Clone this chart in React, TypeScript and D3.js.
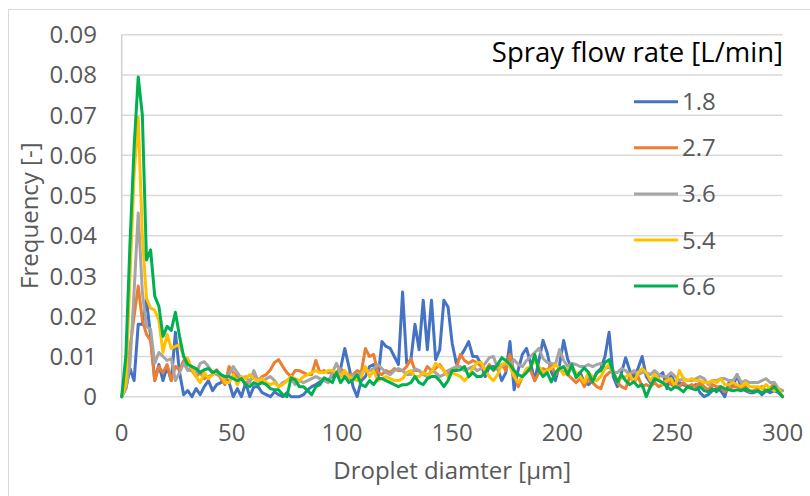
import React from 'react';
import * as d3 from 'd3';

// Droplet diameter bins (µm), uniform spacing from 0 to 300
const binCount = 161;
const diameters: number[] = d3.range(binCount).map((i) => (i * 300) / (binCount - 1));

// Frequency values in thousandths (×0.001) for each spray flow rate
const flow18 = [
  0, 2, 7, 4, 18, 18, 24, 15, 4, 8,
  4, 7.5, 4, 16, 6, 0.5, 1.5, 0, 2, 0.5,
  2.5, 4, 1.5, 3, 3.5, 5, 3.5, 0, 2, 0,
  3.5, 0, 2.5, 2.5, 1, 0.5, 0, 1.2, 0.5, 0,
  1, 0, 0, 0, 0.5, 1.7, 2.5, 3, 3.7, 4.2,
  4.2, 5, 6, 7, 12, 7.5, 2.5, 0, 4, 5,
  7.5, 8, 4, 13.7, 12.5, 12, 10, 8, 26, 8.3,
  9, 18, 11.7, 24, 11.7, 24, 9.2, 11.7, 24, 22.3,
  13.3, 8.3, 10, 11.7, 13.7, 10, 10, 8, 5, 7.5,
  7.5, 7, 4, 6, 13.7, 1.7, 6.7, 10.5, 12, 8.3,
  4, 9, 14, 11, 6.2, 4, 8, 14, 9.2, 7,
  5.5, 6, 3.5, 3, 4, 6, 7, 10, 16, 5,
  2.5, 6, 9.7, 6.5, 5, 7, 10, 5, 3.5, 4,
  5, 6, 2, 5.5, 3, 3.5, 3, 2.5, 2.5, 3,
  1, 0, 0.5, 1.5, 2, 1.5, 0, 3.5, 2.5, 5.5,
  2, 1.5, 1, 1, 1.5, 0.5, 1.5, 1, 1.5, 1,
  0,
];
const flow27 = [
  0, 5, 12, 20, 27.5, 19, 15.5, 14, 4, 7.5,
  6, 8, 4, 7.5, 6.7, 9, 6.7, 6.5, 5, 6,
  4.5, 5, 5.5, 6.7, 4.5, 3, 7.5, 6, 5, 4.5,
  3, 4, 5, 4, 5, 5.5, 6.7, 8.5, 9.2, 7.5,
  6, 5, 6.5, 6.5, 6, 5.5, 5.5, 9, 6, 6.5,
  6, 6, 6, 7, 6, 5.5, 5.5, 6.5, 6, 12,
  10, 10.5, 6, 5.5, 6.5, 6, 7, 6.5, 6.5, 7.5,
  9.5, 6.5, 6.5, 5.5, 7.5, 6.5, 7, 8, 6.5, 6,
  6.5, 7, 10.5, 9, 8.3, 9, 8.5, 7.5, 6.5, 8,
  6.5, 7.5, 8, 6.5, 10.5, 6, 2.5, 5, 6.5, 6.5,
  4, 6, 7, 6.5, 8, 5.5, 7, 6, 5.5, 4.5,
  3.5, 4.5, 2.5, 4.5, 3.5, 2.5, 2, 5, 6, 6.5,
  3.5, 2.5, 2, 5, 3.5, 5, 2.5, 3, 2.5, 3.5,
  2.5, 3, 4.5, 3, 2.5, 2.5, 3.5, 2.5, 3, 2.5,
  3.5, 2.5, 1.7, 3, 2.5, 2.5, 1.2, 2, 2.5, 2.5,
  1.7, 2.5, 1.2, 1.5, 2, 2.5, 1.5, 2, 3.5, 1.2,
  1.5,
];
const flow36 = [
  0, 2, 8, 26, 45.7, 26, 17.5, 16.7, 8.3, 11,
  10, 9, 9.5, 4, 6, 8.3, 6.5, 7.5, 5.5, 8.3,
  8.7, 7.5, 6, 5.5, 5, 4.7, 5.5, 7.5, 6, 4.5,
  5, 3.5, 6.5, 4, 3.5, 4.5, 5, 4, 2.5, 3.5,
  4, 4.5, 3, 4, 3.5, 4, 4.5, 5, 4.5, 4,
  3.5, 6, 8.3, 6, 5, 4.5, 5.5, 5, 6, 6.5,
  6.5, 7, 8, 7, 6, 5.5, 6.5, 7, 6.5, 5.5,
  5.5, 7, 6.5, 5.5, 5, 6.5, 6, 5, 5.5, 6.5,
  7, 7.5, 7.5, 6.5, 7, 7.5, 6.5, 7, 8.3, 9.7,
  10, 7, 7.5, 8.3, 7.5, 9.2, 8, 7.5, 9, 10,
  11, 12, 9.5, 8.5, 8.3, 8, 11.7, 9, 7.5, 8.3,
  8, 7.5, 7.5, 8, 7.5, 8, 8.3, 7, 7.5, 6,
  6, 7, 6.5, 5.5, 6.5, 5.5, 6, 6, 5.5, 6.5,
  5.5, 5, 5, 6, 5, 4, 4.5, 4, 4, 4.5,
  5, 4.5, 3, 4, 4, 4.5, 4.5, 4, 4, 5.5,
  3.5, 4, 3.5, 3.5, 3.5, 4, 4.5, 3.5, 3.5, 2,
  1.5,
];
const flow54 = [
  0, 3, 30, 55, 69.5, 40, 24.5, 22, 21.5, 19,
  11, 15.5, 12, 12.5, 13, 10, 9.5, 7, 5, 3.5,
  6, 4.5, 5.5, 6.5, 5.5, 3.5, 3.5, 5.5, 3, 5,
  4.5, 5.5, 4.5, 4, 4.5, 3.5, 3, 3.5, 2.5, 3,
  4, 5, 4.5, 4, 5, 5.5, 6, 6.5, 6, 6,
  6.5, 6.5, 6, 5, 6.5, 5, 4.5, 4, 5, 7.5,
  5, 6.5, 4, 4.5, 5, 4.5, 4, 4, 4.5, 6,
  6.5, 5, 5, 6, 5.5, 6, 8.3, 7.5, 6.5, 5,
  6, 5.5, 5, 4, 5, 7, 8.5, 8.5, 6.5, 5,
  4, 5.5, 8, 8.5, 7.5, 5, 3.5, 5, 7, 7.5,
  9, 7.5, 6, 6.5, 7, 8, 7, 5.5, 7, 7,
  6, 5, 3.5, 6, 5, 4, 5, 7, 8, 6,
  4, 4.5, 5, 5.5, 3.5, 6, 7, 6, 4, 5.5,
  4.5, 3, 4, 4.5, 2.5, 6.5, 4.5, 4, 4.5, 4,
  4, 3.5, 3.5, 4, 3.5, 4.5, 3, 3, 3.5, 3,
  2.5, 3.5, 2.5, 2.5, 2.5, 2, 3, 2, 1.5, 2,
  0,
];
const flow66 = [
  0, 10, 38, 62, 79.5, 70, 34, 36.5, 25, 22.5,
  15, 17.5, 16.5, 21, 15, 10, 8, 7.5, 7, 6,
  6.7, 7, 6, 6.5, 5.5, 5, 5, 4.5, 4, 4.5,
  3, 2.5, 3.5, 3, 3.5, 3, 2, 1.7, 1.7, 0.5,
  0, 4.7, 4.2, 2.5, 2.5, 1.5, 0.5, 2.5, 3, 4.7,
  4.2, 3.5, 6, 3.5, 5, 3.5, 4.2, 5.5, 3, 2.5,
  4, 3, 4.5, 4.5, 4, 3.5, 3, 2.5, 3, 3,
  3.5, 5, 3.5, 3, 4.5, 5, 5, 4, 2.5, 4,
  6.5, 6.5, 6.7, 7.5, 5, 6, 5, 5, 6, 7.5,
  6.7, 8, 9.7, 9, 8, 6.5, 5.5, 5, 6, 7.2,
  10.5, 6.5, 5, 6, 3.7, 6, 7, 7.5, 5.5, 8,
  4.7, 6, 7.2, 6, 3.7, 6, 6.5, 8.5, 9.2, 6,
  3.7, 5.5, 4, 3, 3.7, 2.5, 3, 0, 2.5, 4.5,
  4, 3.5, 2.5, 1.7, 2.5, 2, 1.2, 2.5, 2, 1.7,
  2.5, 1.5, 1.2, 2, 1.2, 2.5, 2, 1.7, 1.5, 1.7,
  1.5, 2, 1.5, 1.2, 1.5, 1, 1.5, 1.7, 2.5, 1.2,
  0,
];

const seriesNames = ['1.8', '2.7', '3.6', '5.4', '6.6'];
const seriesValues = [flow18, flow27, flow36, flow54, flow66];
const seriesColors = ['#4472C4', '#ED7D31', '#A5A5A5', '#FFC000', '#00B050'];

const yTicks = [0, 0.01, 0.02, 0.03, 0.04, 0.05, 0.06, 0.07, 0.08, 0.09];
const yTickLabels = ['0', '0.01', '0.02', '0.03', '0.04', '0.05', '0.06', '0.07', '0.08', '0.09'];
const xTicks = [0, 50, 100, 150, 200, 250, 300];

const legendTitle = 'Spray flow rate [L/min]';
const xTitle = 'Droplet diamter [µm]';
const yTitle = 'Frequency [-]';

const FONT = "'Open Sans', 'Noto Sans', sans-serif";
const PER_MILLE = 1000;

export default function App() {
  const W = 810;
  const H = 496;
  const left = 121.7;
  const right = 782.6;
  const top = 34.7;
  const bottom = 396.7;

  const x = d3.scaleLinear().domain([0, 300]).range([left, right]);
  const y = d3.scaleLinear().domain([0, 0.09]).range([bottom, top]);

  const line = d3
    .line<number>()
    .x((_, i) => x(diameters[i]))
    .y((d) => y(d / PER_MILLE));

  const legendX1 = 634;
  const legendX2 = 678;
  const legendY0 = 101.7;
  const legendStep = 46.1;

  return (
    <svg
      width={W}
      height={H}
      viewBox={`0 0 ${W} ${H}`}
      style={{ position: 'absolute', left: 0, top: 0, display: 'block', background: '#fff' }}
    >
      <rect x={0} y={0} width={W} height={H} fill="#fff" />
      <rect x={8.5} y={9.5} width={900} height={600} fill="none" stroke="#d9d9d9" strokeWidth={1} />

      {yTicks.map((t) => (
        <line
          key={`g${t}`}
          x1={left}
          x2={right}
          y1={y(t)}
          y2={y(t)}
          stroke="#d9d9d9"
          strokeWidth={1.5}
        />
      ))}
      <line x1={left} x2={left} y1={top} y2={bottom} stroke="#d0d0d0" strokeWidth={1.5} />

      {yTicks.map((t, i) => (
        <text
          key={`yl${t}`}
          x={97}
          y={y(t) + 8.5}
          textAnchor="end"
          fontFamily={FONT}
          fontSize={24}
          fill="#595959"
        >
          {yTickLabels[i]}
        </text>
      ))}
      {xTicks.map((t) => (
        <text
          key={`xl${t}`}
          x={x(t)}
          y={441}
          textAnchor="middle"
          fontFamily={FONT}
          fontSize={24}
          fill="#595959"
        >
          {t}
        </text>
      ))}

      {seriesValues.map((vals, k) => (
        <path
          key={`s${k}`}
          d={line(vals) || ''}
          fill="none"
          stroke={seriesColors[k]}
          strokeWidth={3}
          strokeLinejoin="round"
          strokeLinecap="round"
        />
      ))}

      <text
        x={783}
        y={62}
        textAnchor="end"
        fontFamily={FONT}
        fontSize={27.5}
        fill="#000"
      >
        {legendTitle}
      </text>
      {seriesNames.map((name, k) => {
        const ly = legendY0 + k * legendStep;
        return (
          <g key={`lg${k}`}>
            <line x1={legendX1} x2={legendX2} y1={ly} y2={ly} stroke={seriesColors[k]} strokeWidth={3} />
            <text x={682} y={ly + 8.5} fontFamily={FONT} fontSize={24} fill="#595959">
              {name}
            </text>
          </g>
        );
      })}

      <text
        x={(left + right) / 2}
        y={479}
        textAnchor="middle"
        fontFamily={FONT}
        fontSize={24}
        fill="#595959"
      >
        {xTitle}
      </text>
      <text
        transform={`translate(38, ${(top + bottom) / 2}) rotate(-90)`}
        textAnchor="middle"
        fontFamily={FONT}
        fontSize={24}
        fill="#595959"
      >
        {yTitle}
      </text>
    </svg>
  );
}
